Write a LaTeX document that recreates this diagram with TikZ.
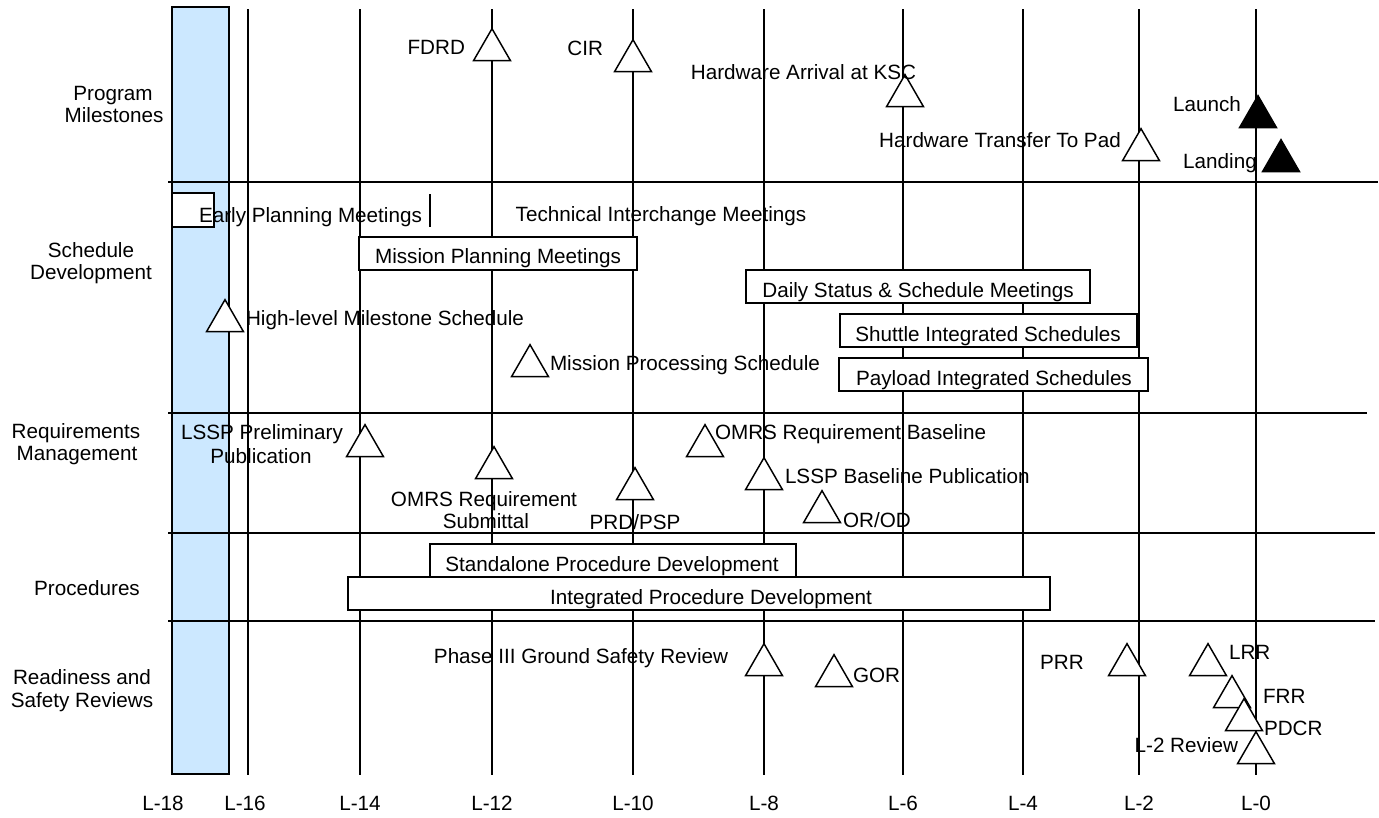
\documentclass[tikz,border=0pt]{standalone}
\usepackage{fontspec}
\setmainfont{Liberation Sans}
\usetikzlibrary{shapes.geometric}
\definecolor{lightblue}{RGB}{204,232,255}
\begin{document}
\begin{tikzpicture}[x=0.75pt,y=-0.75pt,
  ln/.style={line width=1.1pt},
  bx/.style={draw, fill=white, line width=1.1pt, rectangle, inner sep=0pt, outer sep=0pt},
  tri/.style={draw, fill=white, line width=1.1pt, regular polygon, regular polygon sides=3, minimum size=32pt, inner sep=0pt, outer sep=0pt},
  blk/.style={tri, fill=black},
  txt/.style={font=\fontsize{15.5}{17}\selectfont, inner sep=0pt, outer sep=0pt, anchor=base},
  txtl/.style={txt, anchor=base west},
  txtr/.style={txt, anchor=base east}]
\useasboundingbox (0,0) rectangle (1379,818);

% time band
\draw[ln, fill=lightblue] (172,7) rectangle (229,774);

% vertical time lines
\foreach \xx in {248,360,492,633,764,903,1023,1139,1256}
  \draw[ln] (\xx,9) -- (\xx,775);

% row separators
\draw[ln] (168,182) -- (1378,182);
\draw[ln] (168,413) -- (1367,413);
\draw[ln] (168,533) -- (1375,533);
\draw[ln] (168,621) -- (1375,621);

% row labels
\node[txt] (rl1a) at (113,100) {Program};
\node[txt] (rl1b) at (114,122) {Milestones};
\node[txt] (rl2a) at (91,257) {Schedule};
\node[txt] (rl2b) at (91,279) {Development};
\node[txt] (rl3a) at (76,438) {Requirements};
\node[txt] (rl3b) at (77,460) {Management};
\node[txt] (rl4) at (87,595) {Procedures};
\node[txt] (rl5a) at (82,684) {Readiness and};
\node[txt] (rl5b) at (82,707) {Safety Reviews};

% bars
\node[bx, minimum width=31.5pt, minimum height=25.5pt] (epm) at (193,210) {};
\draw[ln] (430,194) -- (430,227);
\node[bx, minimum width=208.5pt, minimum height=24.75pt] (mpm) at (498,253.5) {};
\node[bx, minimum width=258pt, minimum height=24.75pt] (dsm) at (918,286.5) {};
\node[bx, minimum width=222.75pt, minimum height=24.75pt] (sis) at (988.5,330.5) {};
\node[bx, minimum width=231.75pt, minimum height=24.75pt] (pis) at (993.5,374.5) {};
\node[bx, minimum width=274.5pt, minimum height=24.75pt] (spd) at (613,560.5) {};
\node[bx, minimum width=526.5pt, minimum height=24.75pt] (ipd) at (699,593.5) {};

% triangles
\node[tri] (fdrd) at (492,50) {};
\node[tri] (cir) at (633,61) {};
\node[tri] (hwa) at (905,96) {};
\node[blk] (launch) at (1258,117) {};
\node[tri] (hwt) at (1141,150) {};
\node[blk] (landing) at (1281,161) {};
\node[tri] (hlms) at (225,321) {};
\node[tri] (mps) at (530,366) {};
\node[tri] (lsspp) at (365,446) {};
\node[tri] (omrss) at (494,468) {};
\node[tri] (prd) at (635,489) {};
\node[tri] (omrsb) at (705,446) {};
\node[tri] (lsspb) at (764,479) {};
\node[tri] (orod) at (822,512) {};
\node[tri] (p3) at (764,665) {};
\node[tri] (gor) at (834,676) {};
\node[tri] (prr) at (1127,665) {};
\node[tri] (lrr) at (1208,665) {};
\node[tri] (frr) at (1232,697) {};
\node[tri] (pdcr) at (1244,720) {};
\node[tri] (l2r) at (1256,753) {};

% texts
\node[txtr] (tfdrd) at (465,54) {FDRD};
\node[txtr] (tcir) at (603,55) {CIR};
\node[txt] (thwa) at (803.5,79) {Hardware Arrival at KSC};
\node[txt] (tlaunch) at (1207,111) {Launch};
\node[txt] (thwt) at (1000,147) {Hardware Transfer To Pad};
\node[txt] (tlanding) at (1220,168) {Landing};

\node[txt] (tepm) at (310.5,222) {Early Planning Meetings};
\node[txt] (ttim) at (661,221) {Technical Interchange Meetings};
\node[txt] (tmpm) at (498,263) {Mission Planning Meetings};
\node[txt] (tdsm) at (918,297) {Daily Status \& Schedule Meetings};
\node[txt] (tsis) at (988,341) {Shuttle Integrated Schedules};
\node[txt] (tpis) at (994,385) {Payload Integrated Schedules};
\node[txtl] (thlms) at (246,325) {High-level Milestone Schedule};
\node[txtl] (tmps) at (550,370) {Mission Processing Schedule};

\node[txt] (tlsspp1) at (262,439) {LSSP Preliminary};
\node[txt] (tlsspp2) at (261,463) {Publication};
\node[txt] (tomrss1) at (484,506) {OMRS Requirement};
\node[txt] (tomrss2) at (486,528) {Submittal};
\node[txt] (tprd) at (635,529) {PRD/PSP};
\node[txtl] (tomrsb) at (715,439) {OMRS Requirement Baseline};
\node[txtl] (tlsspb) at (785,483) {LSSP Baseline Publication};
\node[txtl] (torod) at (843,527) {OR/OD};

\node[txt] (tspd) at (612,571) {Standalone Procedure Development};
\node[txt] (tipd) at (711,604) {Integrated Procedure Development};

\node[txt] (tp3) at (581,663) {Phase III Ground Safety Review};
\node[txtl] (tgor) at (853,682) {GOR};
\node[txt] (tprr) at (1062,669) {PRR};
\node[txtl] (tlrr) at (1229,659) {LRR};
\node[txtl] (tfrr) at (1263,703) {FRR};
\node[txtl] (tpdcr) at (1264,735) {PDCR};
\node[txtr] (tl2r) at (1238,752) {L-2 Review};

% axis labels
\node[txt] (a18) at (163,810) {L-18};
\node[txt] (a16) at (245,810) {L-16};
\node[txt] (a14) at (360,810) {L-14};
\node[txt] (a12) at (492,810) {L-12};
\node[txt] (a10) at (633,810) {L-10};
\node[txt] (a8) at (764,810) {L-8};
\node[txt] (a6) at (903,810) {L-6};
\node[txt] (a4) at (1023,810) {L-4};
\node[txt] (a2) at (1139,810) {L-2};
\node[txt] (a0) at (1256,810) {L-0};
\end{tikzpicture}
\end{document}
